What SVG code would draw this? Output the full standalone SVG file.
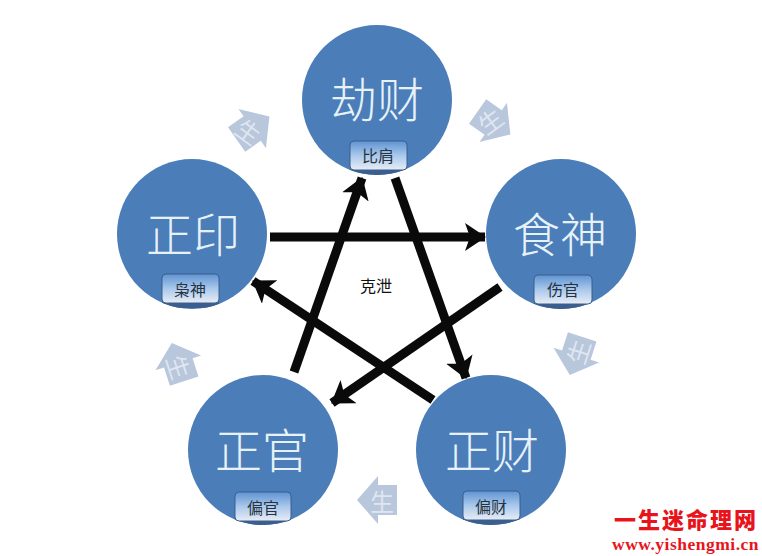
<svg xmlns="http://www.w3.org/2000/svg" width="762" height="556" viewBox="0 0 762 556">
<style>
.c{fill:#4b7db8}
.s{fill:#3a5f8e}
.t{font:300 47px "Noto Sans CJK SC",sans-serif;fill:#e6f2f8;text-anchor:middle;dominant-baseline:central}
.b{fill:url(#g);stroke:#3c5f8c;stroke-width:1}
.l{font:16px "Noto Sans CJK SC",sans-serif;fill:#26333f;text-anchor:middle;dominant-baseline:central}
.e{stroke:#0a0a0a;stroke-width:9;fill:none;marker-end:url(#m)}
.a{fill:#b9c7dc}
.at{font:24px "Noto Sans CJK SC",sans-serif;fill:#dfe6f0;text-anchor:middle;dominant-baseline:central}
.w1{font:900 22px "Noto Sans CJK SC",sans-serif;fill:#e8141c;letter-spacing:2px}
.w2{font:bold 17.5px "Liberation Serif",serif;fill:#e8141c;letter-spacing:.5px}
</style>
<defs>
<linearGradient id="g" x1="0" y1="0" x2="0" y2="1"><stop offset="0" stop-color="#5f93d2"/><stop offset=".5" stop-color="#a9c8ec"/><stop offset="1" stop-color="#e8edf5"/></linearGradient>
<marker id="m" markerUnits="userSpaceOnUse" markerWidth="26" markerHeight="30" refX="20" refY="14" orient="auto"><path d="M0 0L21 14L0 28L5 14Z" fill="#0a0a0a"/></marker>
<path id="ar" d="M-20 0L1 -24V-15H20V15H1V24Z"/>
<clipPath id="c1"><circle cx="377" cy="100" r="75"/></clipPath>
<clipPath id="c2"><circle cx="561" cy="234" r="75"/></clipPath>
<clipPath id="c3"><circle cx="491" cy="450" r="75"/></clipPath>
<clipPath id="c4"><circle cx="263" cy="450" r="75"/></clipPath>
<clipPath id="c5"><circle cx="192" cy="234" r="75"/></clipPath>
</defs>
<rect width="762" height="556" fill="#fff"/>
<g id="node-jiecai"><circle class="c" cx="377" cy="100" r="75"/><rect class="s" clip-path="url(#c1)" x="350" y="146" width="57" height="29"/><text class="t" x="377" y="96">劫财</text><rect class="b" x="350" y="141" width="57" height="29" rx="4"/><text class="l" x="378" y="155">比肩</text></g>
<g id="node-shishen"><circle class="c" cx="561" cy="234" r="75"/><rect class="s" clip-path="url(#c2)" x="534" y="280" width="58" height="29"/><text class="t" x="560" y="231">食神</text><rect class="b" x="534" y="275" width="58" height="29" rx="4"/><text class="l" x="563" y="289">伤官</text></g>
<g id="node-zhengcai"><circle class="c" cx="491" cy="450" r="75"/><rect class="s" clip-path="url(#c3)" x="463" y="496" width="57" height="29"/><text class="t" x="492" y="447">正财</text><rect class="b" x="463" y="491" width="57" height="29" rx="4"/><text class="l" x="491" y="506">偏财</text></g>
<g id="node-zhengguan"><circle class="c" cx="263" cy="450" r="75"/><rect class="s" clip-path="url(#c4)" x="235" y="497" width="56" height="29"/><text class="t" x="262" y="447">正官</text><rect class="b" x="235" y="492" width="56" height="29" rx="4"/><text class="l" x="263" y="507">偏官</text></g>
<g id="node-zhengyin"><circle class="c" cx="192" cy="234" r="75"/><rect class="s" clip-path="url(#c5)" x="162" y="279" width="57" height="29"/><text class="t" x="193" y="231">正印</text><rect class="b" x="162" y="274" width="57" height="29" rx="4"/><text class="l" x="190" y="289">枭神</text></g>
<g id="connectors">
<path class="e" d="M270 237H485"/>
<path class="e" d="M500 287L332 403"/>
<path class="e" d="M294 372L362 178"/>
<path class="e" d="M395 178L466 378"/>
<path class="e" d="M433 400L253 281"/>
</g>
<g id="arrows">
<g transform="translate(494,123) rotate(-145)"><use href="#ar" class="a"/><text class="at" x="5" transform="rotate(109 5 0)">生</text></g>
<g transform="translate(576,356) rotate(-72)"><use href="#ar" class="a"/><text class="at" x="5">生</text></g>
<g transform="translate(377,500)"><use href="#ar" class="a"/><text class="at" x="5">生</text></g>
<g transform="translate(178,362) rotate(72)"><use href="#ar" class="a"/><text class="at" x="5">生</text></g>
<g transform="translate(253,128) rotate(145)"><use href="#ar" class="a"/><text class="at" x="5" transform="rotate(-109 5 0)">生</text></g>
</g>
<text x="376" y="285" font-family="Noto Sans CJK SC, sans-serif" font-size="16" fill="#111" text-anchor="middle" dominant-baseline="central">克泄</text>
<text class="w1" x="614" y="528">一生迷命理网</text>
<text class="w2" x="612" y="550">www.yishengmi.cn</text>
</svg>
